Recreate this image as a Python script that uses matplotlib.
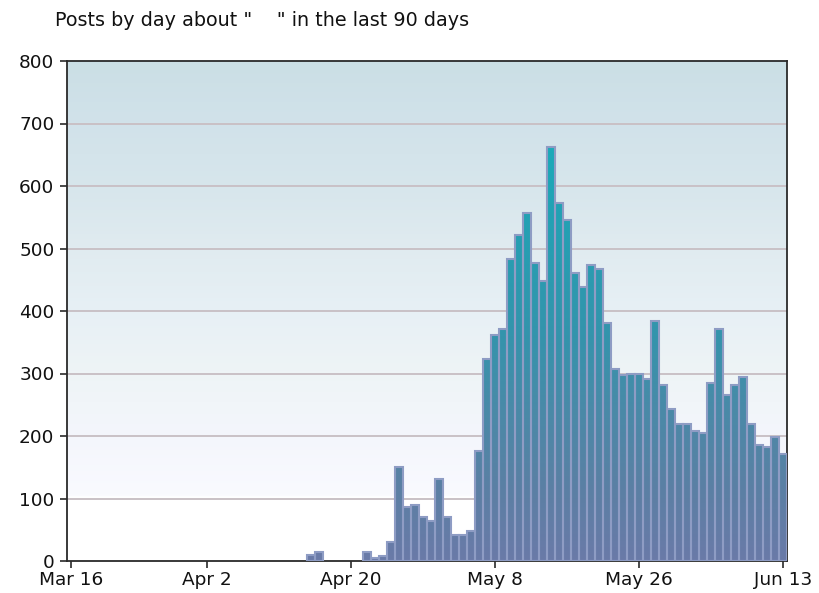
import numpy as np
import pandas as pd
import matplotlib
matplotlib.use('Agg')
import matplotlib.pyplot as plt
from matplotlib.colors import LinearSegmentedColormap

# posts per day, Mar 16 .. Jun 13 (90 days)
start_date = '2009-03-16'
posts = [0] * 30 + [10, 14, 0, 0, 0, 0, 0, 14, 5, 8,
                    30, 150, 86, 89, 70, 64, 131, 70, 41, 41,
                    48, 176, 323, 362, 371, 483, 522, 557, 477, 448,
                    663, 573, 545, 461, 439, 474, 467, 381, 307, 298,
                    300, 300, 291, 384, 282, 244, 220, 220, 208, 205,
                    285, 371, 266, 282, 294, 220, 186, 183, 199, 172]
tick_dates = ['2009-03-16', '2009-04-02', '2009-04-20', '2009-05-08', '2009-05-26', '2009-06-13']
tick_labels = ['Mar 16', 'Apr 2', 'Apr 20', 'May 8', 'May 26', 'Jun 13']
y_ticks = [0, 100, 200, 300, 400, 500, 600, 700, 800]
title = 'Posts by day about "    " in the last 90 days'

plt.rcParams['font.family'] = ['DejaVu Sans']

dates = pd.date_range(start_date, periods=len(posts))
days = np.arange(len(posts))
tick_pos = [(pd.Timestamp(d) - dates[0]).days for d in tick_dates]

fig = plt.figure(figsize=(8.19, 5.93), dpi=100)
ax = fig.add_axes([67 / 819, 1 - 561 / 593, 720 / 819, 500 / 593])

xlim = (-0.5, len(posts) - 0.5)
ylim = (0, 800)

# background gradient (white at bottom, pale blue-grey at top)
bg_cmap = LinearSegmentedColormap.from_list('bg', [
    (0.0, '#ffffff'), (0.125, '#ffffff'), (0.13, '#f9faff'),
    (0.25, '#f4f6fc'), (0.38, '#eef4f6'), (0.5, '#e7f0f5'),
    (0.63, '#e0ebf0'), (0.75, '#d7e6ec'), (0.88, '#d1e2ea'), (1.0, '#cbdfe5')])
grad = np.linspace(0, 1, 400).reshape(-1, 1)
ax.imshow(grad, extent=[*xlim, *ylim], origin='lower', cmap=bg_cmap,
          aspect='auto', zorder=0, interpolation='bilinear')

for y in y_ticks[1:-1]:
    ax.axhline(y, color='#c9c1c6', lw=1.4, zorder=1)

# bars filled with a gradient over absolute height
bar_cmap = LinearSegmentedColormap.from_list('bars', [
    (0.0, '#6a7aa8'), (0.15, '#5a80a4'), (0.3, '#4a8aa8'),
    (0.45, '#3494ac'), (0.7, '#22a2b4'), (1.0, '#12b6c2')])
widths = [1.5 if v > 0 else 0 for v in posts]
bars = ax.bar(days, posts, width=1.0, facecolor='none', edgecolor='#8e9cc4',
              linewidth=widths, zorder=3)
for b, v in zip(bars, posts):
    if v <= 0:
        continue
    im = ax.imshow(grad, extent=[*xlim, *ylim], origin='lower', cmap=bar_cmap,
                   aspect='auto', zorder=2, interpolation='bilinear')
    im.set_clip_path(b)

ax.set_xlim(*xlim)
ax.set_ylim(*ylim)
ax.set_xticks(tick_pos)
ax.set_xticklabels(tick_labels)
ax.set_yticks(y_ticks)

for s in ax.spines.values():
    s.set_color('#2a2a2a')
    s.set_linewidth(1.3)
ax.tick_params(axis='both', length=5, width=1.2, color='#2a2a2a',
               labelsize=13.3, labelcolor='#111111')
ax.tick_params(axis='y', pad=4)
ax.tick_params(axis='x', pad=2.5)

fig.text(55 / 819, 1 - 21 / 593, title, ha='left', va='center',
         fontsize=13.8, color='#111111')

fig.savefig('out.png', dpi=100)
